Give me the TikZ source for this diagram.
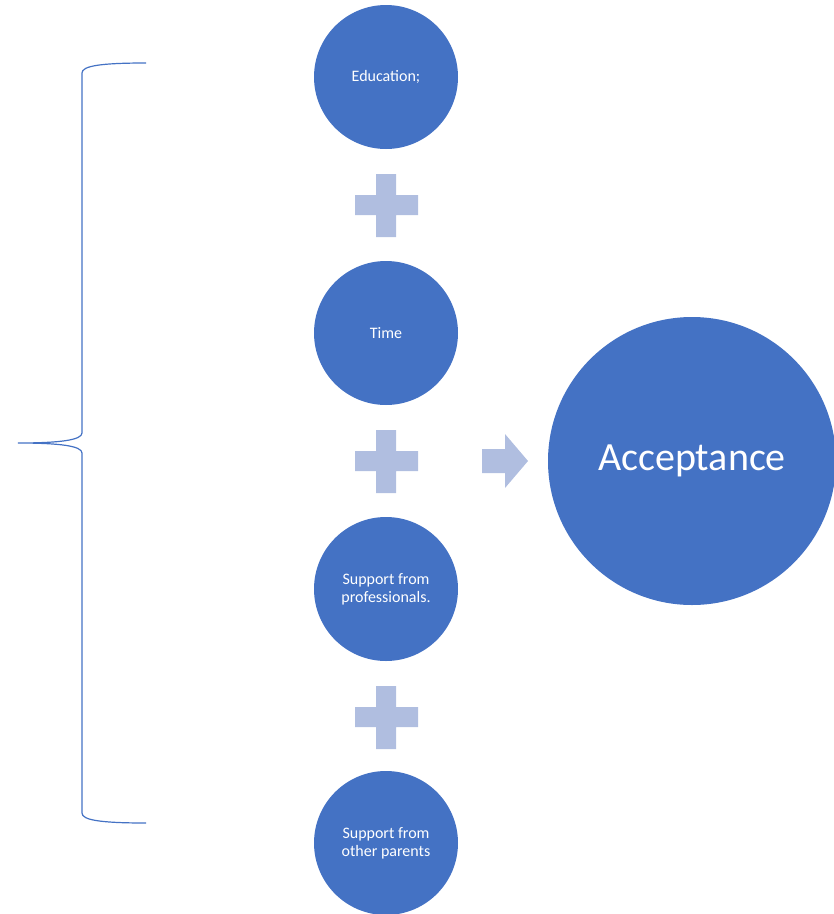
\documentclass[tikz,border=0pt]{standalone}
\usepackage{fontspec}
\setmainfont{Carlito}
\definecolor{blob}{HTML}{4472C4}
\definecolor{light}{RGB}{176,190,224}
\begin{document}
\begin{tikzpicture}[x=0.75pt, y=-0.75pt,
    every node/.style={font=\fontsize{12}{13.5}\selectfont, text=white},
    small/.style={circle, fill=blob, minimum size=108pt, inner sep=0pt, align=center},
    big/.style={circle, fill=blob, minimum size=216pt, inner sep=0pt, font=\fontsize{30}{36}\selectfont}]
    \useasboundingbox (0,0) rectangle (833,914);
    \node[small] (edu) at (386,77) {Education;};
    \node[small] (time) at (386,333) {Time};
    \node[small] (prof) at (386,589) {Support from\\professionals.};
    \node[small] (parents) at (386,843) {Support from\\other parents};
    \node[big] (accept) at (692,461) {Acceptance};
    \fill[light] (355,195) rectangle (418,215) (376,174) rectangle (396,237);
    \fill[light] (355,451) rectangle (418,471) (376,430) rectangle (396,493);
    \fill[light] (355,707) rectangle (418,727) (376,686) rectangle (396,749);
    \fill[light] (482,449) -- (505,449) -- (505,434) -- (528,461) -- (505,488)
        -- (505,473) -- (482,473) -- cycle;
    \draw[blob, line width=0.9pt] (146,63) .. controls (100,63) and (82,66) .. (82,73)
        -- (82,433) .. controls (82,440) and (60,443) .. (18,443)
        .. controls (60,443) and (82,446) .. (82,453)
        -- (82,813) .. controls (82,820) and (100,823) .. (146,823);
\end{tikzpicture}
\end{document}
